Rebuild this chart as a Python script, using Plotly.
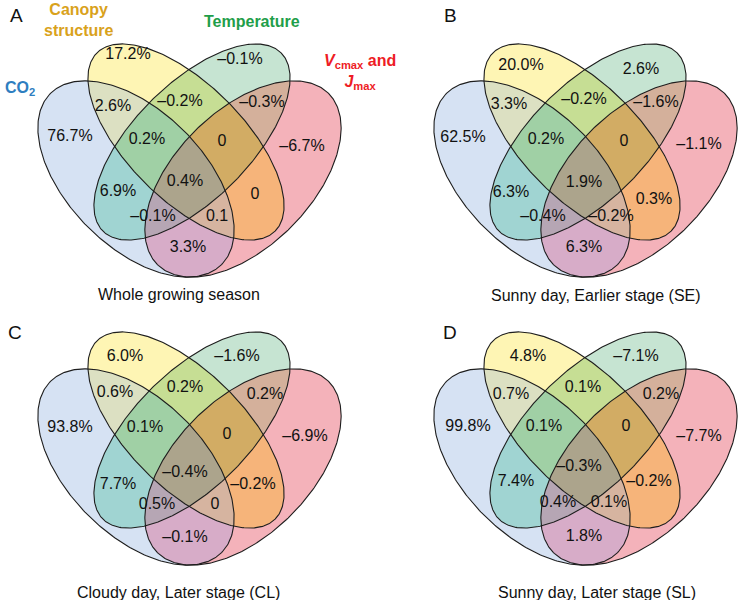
import numpy as np
import plotly.graph_objects as go

# ---------------- data ----------------
REGIONS = ["B", "Y", "G", "P", "BY", "YG", "GP", "BG", "YP", "BP",
           "BYG", "YGP", "BYP", "BGP", "BYGP"]
# B = CO2, Y = Canopy structure, G = Temperature, P = Vcmax and Jmax
VALUES_A = [76.7, 17.2, -0.1, -6.7, 2.6, -0.2, -0.3, 6.9, 0, 3.3, 0.2, 0, 0.1, -0.1, 0.4]
VALUES_B = [62.5, 20.0, 2.6, -1.1, 3.3, -0.2, -1.6, 6.3, 0.3, 6.3, 0.2, 0, -0.2, -0.4, 1.9]
VALUES_C = [93.8, 6.0, -1.6, -6.9, 0.6, 0.2, 0.2, 7.7, -0.2, -0.1, 0.1, 0, 0, 0.5, -0.4]
VALUES_D = [99.8, 4.8, -7.1, -7.7, 0.7, 0.1, 0.2, 7.4, -0.2, 1.8, 0.1, 0, 0.1, 0.4, -0.3]
NO_PCT = {(0, "BYP")}   # label printed without a % sign in the original
PANEL_LETTERS = ["A", "B", "C", "D"]
CAPTIONS = ["Whole growing season", "Sunny day, Earlier stage (SE)",
            "Cloudy day, Later stage (CL)", "Sunny day, Later stage (SL)"]
SET_NAMES = ["<b>CO<sub>2</sub></b>", "<b>Canopy<br>structure</b>", "<b>Temperature</b>",
             "<b><i>V</i><sub>cmax</sub> and<br><i>J</i><sub>max</sub></b>"]

# ---------------- layout / geometry ----------------
W, H = 742, 600
PANEL_OFFSETS = [(0, 0), (396, 0), (0, 288), (396, 288)]
# ellipse: cx, cy, a, b, angle (deg, screen coords)
ELLIPSES = {
    "B": (136, 179, 121, 68, 45),
    "Y": (186, 142, 126, 58, 45),
    "G": (192, 142, 126, 58, -45),
    "P": (243, 179, 121, 68, -45),
}
BITS = {"B": 1, "Y": 2, "G": 4, "P": 8}
REGION_COLORS = {
    "B": "#d6e2f3", "Y": "#fef5b4", "G": "#c6e4d2", "P": "#f4b2ba",
    "BY": "#dce0c2", "YG": "#c6de94", "GP": "#d4b09b", "BG": "#a0d4d2",
    "YP": "#f6b47a", "BP": "#d7acc8", "BYG": "#a0d0a5", "YGP": "#d2ac64",
    "BYP": "#d6b4a0", "BGP": "#b6a6b4", "BYGP": "#aca48c",
}
LABEL_POS = [
    [(70, 137), (128, 55), (240, 60), (302, 147), (113, 107), (180, 102), (262, 103), (118, 192),
     (255, 195), (188, 248), (147, 140), (222, 142), (217, 217), (153, 217), (185, 182)],
    [(67, 138), (125, 66), (245, 70), (303, 145), (113, 105), (188, 100), (260, 103), (115, 193),
     (258, 200), (188, 248), (150, 140), (228, 142), (215, 217), (147, 217), (188, 183)],
    [(70, 140), (125, 69), (237, 69), (305, 149), (115, 105), (185, 100), (265, 107), (118, 197),
     (253, 197), (185, 250), (145, 140), (227, 147), (215, 217), (157, 217), (185, 185)],
    [(72, 139), (132, 69), (240, 69), (303, 149), (115, 107), (187, 100), (265, 107), (120, 194),
     (253, 194), (188, 249), (148, 139), (230, 139), (213, 215), (162, 215), (183, 179)],
]
LETTER_POS = [(16, 15), (450, 15), (15, 332), (450, 332)]
CAPTION_POS = [(179, 294), (596, 295), (178, 592), (597, 592)]
FONT = "Liberation Sans, Arial, Helvetica, sans-serif"


def region_mask(name):
    m = 0
    for ch in name:
        m |= BITS[ch]
    return m


def fmt(v, pct=True):
    if v == 0:
        return "0"
    s = f"{abs(v):.1f}"
    if v < 0:
        s = "\u2013" + s
    return s + ("%" if pct else "")


# ---------------- region raster (heatmap) ----------------
xs = np.arange(W) + 0.5
ys = np.arange(H) + 0.5
X, Y = np.meshgrid(xs, ys)
code = np.zeros((H, W), dtype=int)
for ox, oy in PANEL_OFFSETS:
    for name, (cx, cy, a, b, ang) in ELLIPSES.items():
        th = np.radians(ang)
        dx = X - (cx + ox)
        dy = Y - (cy + oy)
        u = dx * np.cos(th) + dy * np.sin(th)
        v = -dx * np.sin(th) + dy * np.cos(th)
        inside = (u / a) ** 2 + (v / b) ** 2 <= 1
        code[inside] |= BITS[name]
z = code.astype(float)
z[code == 0] = np.nan

mask_to_color = {region_mask(r): REGION_COLORS[r] for r in REGIONS}
colorscale = []
for k in range(1, 16):
    c = mask_to_color[k]
    colorscale.append([(k - 1) / 15, c])
    colorscale.append([k / 15, c])

fig = go.Figure()
fig.add_trace(go.Heatmap(x=xs, y=ys, z=z, colorscale=colorscale, zmin=0.5, zmax=15.5,
                         showscale=False, hoverinfo="skip", zsmooth=False))

# ---------------- outlines ----------------
t = np.linspace(0, 2 * np.pi, 361)
lx, ly = [], []
for ox, oy in PANEL_OFFSETS:
    for name, (cx, cy, a, b, ang) in ELLIPSES.items():
        th = np.radians(ang)
        ex = cx + ox + a * np.cos(t) * np.cos(th) - b * np.sin(t) * np.sin(th)
        ey = cy + oy + a * np.cos(t) * np.sin(th) + b * np.sin(t) * np.cos(th)
        lx += list(ex) + [None]
        ly += list(ey) + [None]
fig.add_trace(go.Scatter(x=lx, y=ly, mode="lines", line=dict(color="#1e1e1e", width=1.1),
                         hoverinfo="skip"))

# ---------------- region labels ----------------
ALL_VALUES = [VALUES_A, VALUES_B, VALUES_C, VALUES_D]
for p, ((ox, oy), vals) in enumerate(zip(PANEL_OFFSETS, ALL_VALUES)):
    texts = [fmt(v, (p, r) not in NO_PCT) for r, v in zip(REGIONS, vals)]
    px = [ox + LABEL_POS[p][i][0] for i in range(len(REGIONS))]
    py = [oy + LABEL_POS[p][i][1] for i in range(len(REGIONS))]
    fig.add_trace(go.Scatter(x=px, y=py, mode="text", text=texts, textposition="middle center",
                             textfont=dict(family=FONT, size=16, color="#111111"),
                             hoverinfo="skip"))

annotations = []
for letter, (lx_, ly_) in zip(PANEL_LETTERS, LETTER_POS):
    annotations.append(dict(x=lx_, y=ly_, text=letter, showarrow=False,
                            font=dict(family=FONT, size=19, color="#111111"),
                            xanchor="center", yanchor="middle"))
for cap, (cx_, cy_) in zip(CAPTIONS, CAPTION_POS):
    annotations.append(dict(x=cx_, y=cy_, text=cap, showarrow=False,
                            font=dict(family=FONT, size=16, color="#111111"),
                            xanchor="center", yanchor="middle"))

SET_LABEL_POS = [(3, 88, "left"), (78, 20, "center"), (252, 21, "center"), (360, 72, "center")]
SET_COLORS = ["#2e7ec0", "#d9a21c", "#1f9e4a", "#ee1c25"]
for name, (sx, sy, anc), col in zip(SET_NAMES, SET_LABEL_POS, SET_COLORS):
    annotations.append(dict(x=sx, y=sy, text=name, showarrow=False, align="center",
                            font=dict(family=FONT, size=16, color=col),
                            xanchor=anc, yanchor="middle"))

fig.update_layout(
    width=W, height=H, margin=dict(l=0, r=0, t=0, b=0),
    paper_bgcolor="white", plot_bgcolor="white", showlegend=False,
    xaxis=dict(range=[0, W], visible=False, fixedrange=True),
    yaxis=dict(range=[H, 0], visible=False, fixedrange=True),
    annotations=annotations,
)
fig.write_html("out.html", config={"displayModeBar": False},
               post_script="document.body.style.margin='0px';")
